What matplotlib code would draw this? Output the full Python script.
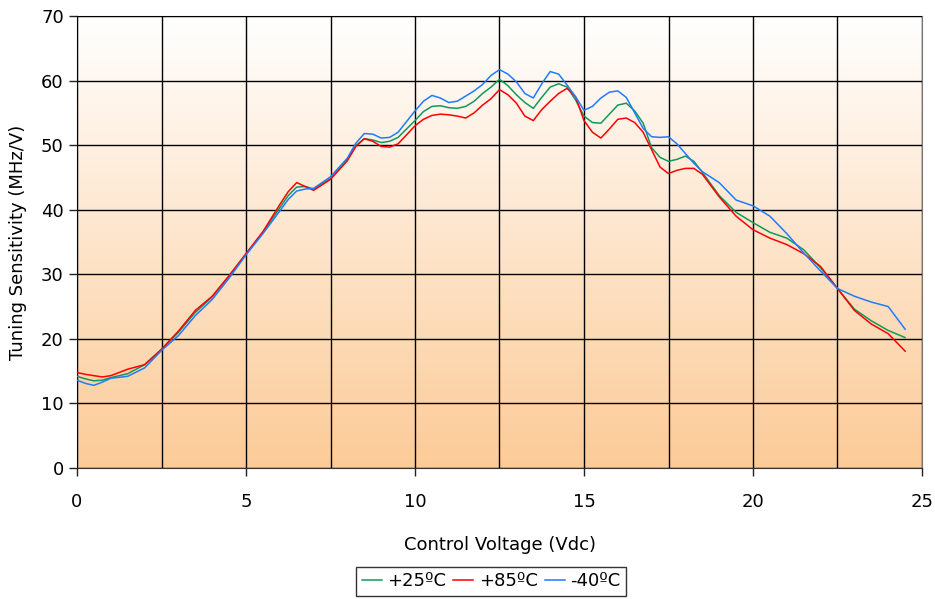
import numpy as np
import matplotlib
matplotlib.use("Agg")
import matplotlib.pyplot as plt
from matplotlib.colors import LinearSegmentedColormap

# === Dados ===
tensao = [0, 0.25, 0.5, 0.75, 1.0, 1.5, 2.0, 2.5, 3.0, 3.5, 4.0, 4.5, 5.0, 5.5,
          6.0, 6.25, 6.5, 6.75, 7.0, 7.5, 8.0, 8.25, 8.5, 8.75, 9.0, 9.25, 9.5,
          10.0, 10.25, 10.5, 10.75, 11.0, 11.25, 11.5, 11.75, 12.0, 12.25, 12.5,
          12.75, 13.0, 13.25, 13.5, 13.75, 14.0, 14.25, 14.5, 14.75, 15.0, 15.25,
          15.5, 15.75, 16.0, 16.25, 16.5, 16.75, 17.0, 17.25, 17.5, 17.75, 18.0,
          18.25, 18.5, 19.0, 19.5, 20.0, 20.5, 21.0, 21.5, 22.0, 22.5, 23.0,
          23.5, 24.0, 24.5]

sens_25 = [14.2, 13.8, 13.5, 13.6, 14.0, 14.6, 16.0, 18.3, 21.0, 24.1, 26.5, 29.7,
           33.1, 36.5, 40.3, 42.2, 43.5, 43.6, 43.2, 44.8, 47.7, 49.9, 51.0, 50.8,
           50.4, 50.6, 51.2, 53.8, 55.2, 56.0, 56.1, 55.8, 55.7, 56.0, 56.8, 58.0,
           59.0, 60.2, 59.2, 57.8, 56.6, 55.7, 57.4, 59.0, 59.5, 59.0, 57.0, 54.5,
           53.5, 53.4, 54.8, 56.2, 56.5, 55.3, 53.4, 49.6, 48.1, 47.5, 47.8, 48.3,
           47.5, 45.8, 42.2, 39.6, 38.0, 36.5, 35.6, 33.8, 31.0, 27.8, 24.6, 22.8,
           21.3, 20.2]

sens_85 = [14.8, 14.5, 14.3, 14.1, 14.3, 15.3, 16.0, 18.4, 21.2, 24.4, 26.6, 29.8,
           33.2, 36.6, 40.8, 42.8, 44.2, 43.6, 43.0, 44.7, 47.6, 49.8, 51.0, 50.6,
           49.8, 49.7, 50.2, 53.0, 54.0, 54.6, 54.8, 54.7, 54.5, 54.2, 55.0, 56.2,
           57.2, 58.6, 57.8, 56.5, 54.5, 53.8, 55.5, 56.8, 58.0, 58.8, 57.5, 53.8,
           52.0, 51.1, 52.5, 54.0, 54.2, 53.5, 52.0, 49.3, 46.6, 45.6, 46.1, 46.4,
           46.4, 45.5, 42.0, 39.0, 36.9, 35.6, 34.6, 33.2, 31.2, 27.8, 24.4, 22.3,
           20.8, 18.1]

sens_m40 = [13.6, 13.1, 12.8, 13.3, 13.9, 14.2, 15.5, 18.2, 20.5, 23.6, 26.1, 29.4,
            33.0, 36.3, 39.8, 41.6, 42.9, 43.2, 43.3, 45.1, 48.0, 50.3, 51.8, 51.7,
            51.1, 51.2, 52.0, 55.3, 56.8, 57.7, 57.3, 56.6, 56.8, 57.6, 58.4, 59.4,
            60.8, 61.7, 61.0, 59.8, 58.0, 57.3, 59.5, 61.4, 61.0, 59.3, 57.5, 55.4,
            56.0, 57.3, 58.2, 58.4, 57.4, 55.0, 52.6, 51.3, 51.2, 51.3, 50.2, 48.7,
            47.2, 45.9, 44.2, 41.5, 40.6, 39.0, 36.3, 33.3, 30.5, 27.8, 26.6, 25.7,
            25.0, 21.5]

# === Figura ===
fig = plt.figure(figsize=(9.35, 5.99), dpi=100)
ax = fig.add_axes([77 / 935, 1 - 468 / 599, 845 / 935, 452 / 599])

# fundo em degradê (branco em cima -> laranja embaixo)
cmap = LinearSegmentedColormap.from_list("fundo", ["#FFFFFF", "#FCCB98"])
grad = np.linspace(0, 1, 256).reshape(-1, 1)
ax.imshow(grad, extent=[0, 25, 0, 70], origin="upper", aspect="auto",
          cmap=cmap, zorder=0)

ax.plot(tensao, sens_25, color="#109A5A", lw=1.1, label="+25ºC", zorder=3)
ax.plot(tensao, sens_85, color="#FF0000", lw=1.1, label="+85ºC", zorder=3)
ax.plot(tensao, sens_m40, color="#1F7BFF", lw=1.1, label="-40ºC", zorder=3)

ax.set_xlim(0, 25)
ax.set_ylim(0, 70)
ax.set_xticks(np.arange(0, 26, 5))
ax.set_xticks(np.arange(0, 25.1, 2.5), minor=True)
ax.set_yticks(np.arange(0, 71, 10))
ax.grid(True, which="both", color="black", lw=1.0, zorder=1)
ax.set_axisbelow(False)
ax.tick_params(axis="both", which="major", direction="out", length=6,
               width=1.0, labelsize=13, colors="#222222", labelcolor="black")
ax.tick_params(axis="x", which="minor", length=0)
ax.tick_params(axis="x", pad=12)

for lado in ["top", "right"]:
    ax.spines[lado].set_color("#777777")
for lado in ["left", "bottom"]:
    ax.spines[lado].set_color("#333333")

ax.set_xlabel("Control Voltage (Vdc)", fontsize=13, labelpad=18)
ax.set_ylabel("Tuning Sensitivity (MHz/V)", fontsize=13, labelpad=10)

leg = ax.legend(loc="upper center", bbox_to_anchor=(0.49, -0.219),
                ncol=3, fontsize=13, frameon=True, fancybox=False,
                handlelength=1.1, handletextpad=0.3, columnspacing=0.4,
                borderpad=0.3, borderaxespad=0)
leg.get_frame().set_edgecolor("black")
leg.get_frame().set_linewidth(1.0)

fig.savefig("out.png", dpi=100)
